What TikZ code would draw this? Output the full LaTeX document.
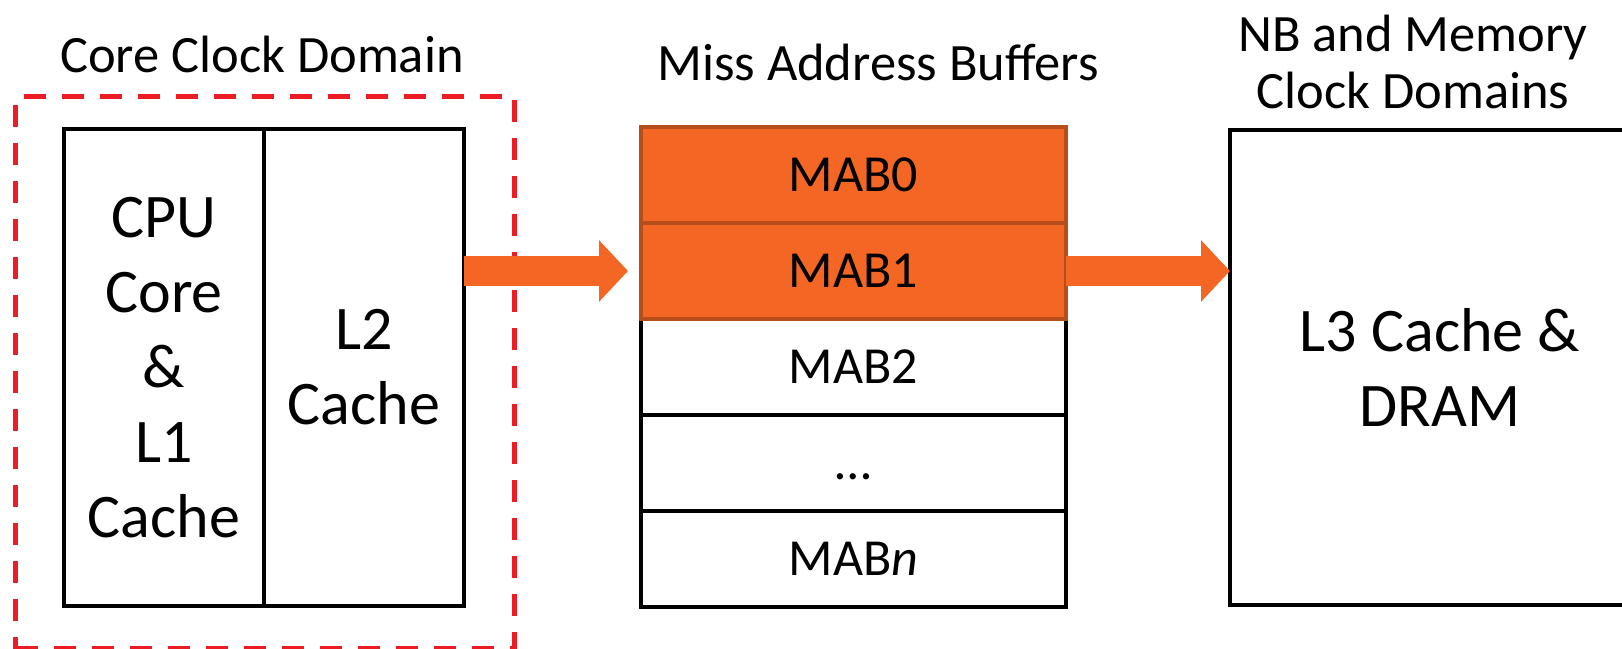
\documentclass[tikz,border=0pt]{standalone}
\usepackage{fontspec}
\setmainfont{Carlito}
\usepackage{tikz}
\usetikzlibrary{arrows.meta, positioning}
\definecolor{mabfill}{HTML}{F36623}
\definecolor{mabedge}{HTML}{B54E1A}
\definecolor{domred}{HTML}{ED1C24}

\begin{document}
\begin{tikzpicture}[
      x=1pt, y=-1pt,
      node distance=0pt,
      box/.style={rectangle, draw=black, line width=4pt, fill=white,
                  inner sep=0pt, outer sep=0pt, align=center,
                  font=\fontsize{62}{75}\selectfont},
      mabrow/.style={box, minimum width=425pt, minimum height=96pt,
                     font=\fontsize{52}{60}\selectfont},
      hot/.style={draw=mabedge, fill=mabfill},
      title/.style={align=center, inner sep=0pt, font=\fontsize{52.5}{57}\selectfont},
      arr/.style={-{Triangle[length=29pt, width=60pt]}, line width=30pt, mabfill}
    ]
      \useasboundingbox (0,0) rectangle (1622,648);
      % core clock domain
      \node[box, anchor=north west, minimum width=200pt, minimum height=477pt]
            (core) at (64,129) {CPU\\Core\\\&\\L1\\Cache};
      \node[box, right=of core, minimum width=200pt, minimum height=477pt] (ltwo) {L2\\Cache};
      \node[draw=domred, line width=5pt, dash pattern=on 22pt off 16pt, anchor=north west,
            minimum width=499pt, minimum height=552pt, inner sep=0pt] (domain) at (13,94) {};
      \node[title] (domtitle) at (262,54) {Core Clock Domain};
      % miss address buffers
      \node[mabrow, anchor=north west] (mab0) at (641,127) {MAB0};
      \node[mabrow, below=of mab0] (mab1) {MAB1};
      \node[mabrow, below=of mab1] (mab2) {MAB2};
      \node[mabrow, below=of mab2] (mabdots) {\vphantom{MAB}\dots};
      \node[mabrow, below=of mabdots] (mabn) {MAB\textit{n}};
      \node[mabrow, hot] at (mab1) {MAB1};
      \node[mabrow, hot] at (mab0) {MAB0};
      \node[title] (mabtitle) at (878,62) {Miss Address Buffers};
      % NB and memory
      \node[box, anchor=north west, minimum width=420pt, minimum height=475pt]
            (lthree) at (1230,130) {L3 Cache \&\\DRAM};
      \node[title] (memtitle) at (1413,62) {NB and Memory\\Clock Domains};
      \draw[arr] (ltwo.east |- mab1) -- ([xshift=-13pt]mab1.west);
      \draw[arr] (mab1.east) -- (lthree.west |- mab1);
    \end{tikzpicture}
\end{document}
